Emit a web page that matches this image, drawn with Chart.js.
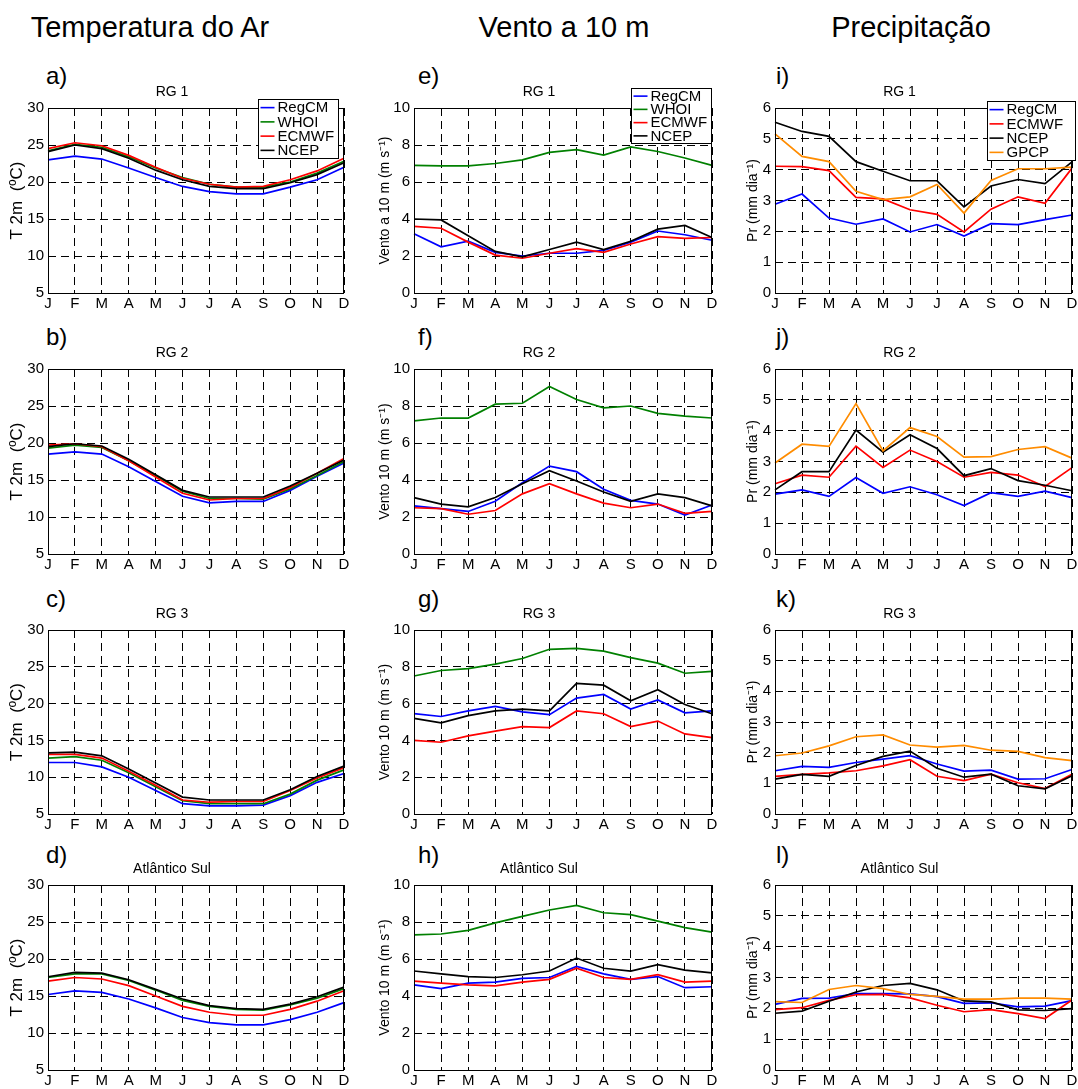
<!DOCTYPE html>
<html>
<head>
<meta charset="utf-8">
<title>Ciclo anual - RegCM</title>
<script src="https://cdn.jsdelivr.net/npm/chart.js"></script>
<style>
  body { margin: 0; background: #fff; }
  #fig { position: relative; width: 1078px; height: 1089px; overflow: hidden;
         font-family: "Liberation Sans", Arial, Helvetica, sans-serif; color: #000; }
  .head { position: absolute; font-size: 29px; line-height: 29px; white-space: nowrap; transform: translateX(-50%); }
  .tag { position: absolute; font-size: 24px; line-height: 24px; }
  canvas { position: absolute; }
</style>
</head>
<body>
<div id="fig">
  <div class="head" style="left:150px; top:13px">Temperatura do Ar</div>
  <div class="head" style="left:564px; top:13px">Vento a 10 m</div>
  <div class="head" style="left:911px; top:13px">Precipitação</div>
</div>

<script>
// months on the x axis
const months = ['J', 'F', 'M', 'A', 'M', 'J', 'J', 'A', 'S', 'O', 'N', 'D'];

// --- temperatura do ar (T 2m, oC) ---
const tRG1_regcm = [23.0, 23.5, 23.1, 21.9, 20.6, 19.4, 18.7, 18.4, 18.4, 19.3, 20.3, 22.0];
const tRG1_whoi  = [24.2, 25.1, 24.7, 23.4, 21.9, 20.6, 19.7, 19.3, 19.3, 20.0, 21.2, 22.8];
const tRG1_ecmwf = [24.5, 25.3, 24.9, 23.6, 22.0, 20.5, 19.7, 19.3, 19.4, 20.3, 21.5, 23.2];
const tRG1_ncep  = [24.1, 25.0, 24.5, 23.2, 21.6, 20.3, 19.4, 19.1, 19.1, 19.9, 21.0, 22.6];

const tRG2_regcm = [18.5, 18.8, 18.5, 16.8, 14.8, 12.8, 11.9, 12.1, 12.1, 13.6, 15.5, 17.3];
const tRG2_whoi  = [19.3, 19.7, 19.4, 17.6, 15.6, 13.5, 12.5, 12.5, 12.4, 13.8, 15.6, 17.5];
const tRG2_ecmwf = [19.7, 19.9, 19.5, 17.6, 15.4, 13.2, 12.3, 12.5, 12.5, 14.0, 15.9, 17.9];
const tRG2_ncep  = [19.5, 19.9, 19.6, 17.8, 15.7, 13.6, 12.7, 12.7, 12.7, 14.2, 15.9, 17.7];

const tRG3_regcm = [12.0, 12.0, 11.4, 10.0, 8.2, 6.4, 6.1, 6.1, 6.2, 7.5, 9.3, 10.5];
const tRG3_whoi  = [12.6, 12.8, 12.3, 10.6, 8.7, 6.8, 6.4, 6.4, 6.4, 7.7, 9.6, 11.0];
const tRG3_ecmwf = [13.1, 13.1, 12.6, 10.8, 8.9, 6.9, 6.6, 6.7, 6.7, 8.2, 9.9, 11.3];
const tRG3_ncep  = [13.3, 13.4, 12.9, 11.1, 9.2, 7.3, 6.9, 6.9, 6.9, 8.3, 10.1, 11.5];

const tAS_regcm = [15.2, 15.7, 15.5, 14.6, 13.4, 12.1, 11.4, 11.1, 11.1, 11.8, 12.8, 14.1];
const tAS_whoi  = [17.5, 18.0, 18.0, 17.1, 15.8, 14.4, 13.6, 13.2, 13.1, 13.8, 14.7, 16.0];
const tAS_ecmwf = [17.0, 17.5, 17.3, 16.4, 15.0, 13.6, 12.8, 12.4, 12.4, 13.2, 14.3, 15.7];
const tAS_ncep  = [17.6, 18.2, 18.1, 17.2, 15.9, 14.6, 13.7, 13.3, 13.2, 13.9, 14.9, 16.2];

// --- vento a 10 m (m s-1) ---
const vRG1_regcm = [3.2, 2.5, 2.8, 2.2, 2.0, 2.15, 2.15, 2.3, 2.75, 3.35, 3.15, 2.85];
const vRG1_whoi  = [6.9, 6.87, 6.87, 7.0, 7.2, 7.6, 7.75, 7.45, 7.9, 7.65, 7.3, 6.9];
const vRG1_ecmwf = [3.6, 3.5, 2.75, 2.05, 1.88, 2.15, 2.4, 2.2, 2.65, 3.05, 2.95, 3.0];
const vRG1_ncep  = [4.0, 3.95, 3.1, 2.25, 1.95, 2.35, 2.75, 2.35, 2.8, 3.45, 3.65, 3.0];

const vRG2_regcm = [2.6, 2.45, 2.3, 2.85, 3.85, 4.75, 4.45, 3.5, 2.9, 2.7, 2.1, 2.65];
const vRG2_whoi  = [7.2, 7.35, 7.35, 8.1, 8.15, 9.05, 8.35, 7.9, 8.0, 7.6, 7.45, 7.35];
const vRG2_ecmwf = [2.5, 2.45, 2.15, 2.35, 3.25, 3.8, 3.25, 2.75, 2.5, 2.7, 2.2, 2.3];
const vRG2_ncep  = [3.05, 2.7, 2.55, 3.05, 3.8, 4.5, 3.95, 3.35, 2.85, 3.25, 3.05, 2.6];

const vRG3_regcm = [5.45, 5.3, 5.6, 5.85, 5.55, 5.4, 6.3, 6.5, 5.7, 6.2, 5.5, 5.6];
const vRG3_whoi  = [7.5, 7.8, 7.9, 8.15, 8.45, 8.95, 9.0, 8.85, 8.5, 8.2, 7.65, 7.75];
const vRG3_ecmwf = [4.0, 3.9, 4.25, 4.5, 4.75, 4.7, 5.6, 5.45, 4.75, 5.05, 4.35, 4.15];
const vRG3_ncep  = [5.2, 4.95, 5.35, 5.6, 5.7, 5.6, 7.1, 7.0, 6.15, 6.75, 5.95, 5.45];

const vAS_regcm = [4.6, 4.4, 4.7, 4.75, 4.95, 5.0, 5.6, 5.2, 4.9, 5.05, 4.45, 4.5];
const vAS_whoi  = [7.3, 7.35, 7.55, 7.95, 8.3, 8.65, 8.9, 8.5, 8.4, 8.05, 7.7, 7.45];
const vAS_ecmwf = [4.8, 4.7, 4.6, 4.55, 4.75, 4.9, 5.5, 5.0, 4.9, 5.15, 4.75, 4.8];
const vAS_ncep  = [5.35, 5.2, 5.05, 5.0, 5.15, 5.35, 6.05, 5.5, 5.35, 5.7, 5.4, 5.25];

// --- precipitacao (mm dia-1) ---
const pRG1_regcm = [2.88, 3.21, 2.43, 2.23, 2.4, 1.98, 2.22, 1.85, 2.25, 2.22, 2.38, 2.53];
const pRG1_ecmwf = [4.11, 4.1, 3.97, 3.1, 3.05, 2.7, 2.55, 1.98, 2.72, 3.12, 2.91, 4.05];
const pRG1_ncep  = [5.54, 5.24, 5.08, 4.26, 3.95, 3.64, 3.64, 2.79, 3.47, 3.68, 3.55, 4.25];
const pRG1_gpcp  = [5.16, 4.43, 4.26, 3.3, 3.03, 3.12, 3.52, 2.59, 3.65, 4.03, 4.03, 4.08];

const pRG2_regcm = [1.94, 2.08, 1.87, 2.48, 1.97, 2.18, 1.92, 1.57, 1.99, 1.87, 2.04, 1.83];
const pRG2_ecmwf = [2.28, 2.56, 2.49, 3.5, 2.81, 3.37, 3.0, 2.49, 2.65, 2.56, 2.19, 2.8];
const pRG2_ncep  = [2.08, 2.67, 2.67, 4.02, 3.3, 3.87, 3.42, 2.54, 2.77, 2.38, 2.23, 2.05];
const pRG2_gpcp  = [2.95, 3.56, 3.49, 4.88, 3.34, 4.1, 3.81, 3.14, 3.16, 3.39, 3.48, 3.11];

const pRG3_regcm = [1.41, 1.55, 1.52, 1.68, 1.79, 1.9, 1.63, 1.4, 1.43, 1.14, 1.15, 1.45];
const pRG3_ecmwf = [1.23, 1.29, 1.34, 1.41, 1.57, 1.77, 1.23, 1.09, 1.3, 1.02, 0.83, 1.3];
const pRG3_ncep  = [1.14, 1.29, 1.23, 1.58, 1.88, 2.05, 1.49, 1.2, 1.3, 0.92, 0.82, 1.25];
const pRG3_gpcp  = [1.9, 1.99, 2.22, 2.52, 2.58, 2.25, 2.18, 2.24, 2.08, 2.04, 1.84, 1.74];

const pAS_regcm = [2.13, 2.32, 2.33, 2.48, 2.48, 2.47, 2.38, 2.16, 2.18, 2.05, 2.07, 2.25];
const pAS_ecmwf = [1.96, 2.02, 2.26, 2.44, 2.45, 2.34, 2.1, 1.89, 1.96, 1.83, 1.67, 2.27];
const pAS_ncep  = [1.84, 1.91, 2.23, 2.53, 2.74, 2.81, 2.6, 2.24, 2.21, 1.95, 1.93, 1.99];
const pAS_gpcp  = [2.22, 2.19, 2.61, 2.74, 2.64, 2.45, 2.39, 2.3, 2.3, 2.33, 2.33, 2.3];

const colors = { RegCM: '#0000ff', WHOI: '#008000', ECMWF: '#ff0000', NCEP: '#000000', GPCP: '#ff8c00' };

function series(names, arrays) {
  return names.map((n, i) => ({ label: n, data: arrays[i] }));
}
const tNames = ['RegCM', 'WHOI', 'ECMWF', 'NCEP'];
const pNames = ['RegCM', 'ECMWF', 'NCEP', 'GPCP'];

// layout of each panel: plot box in page pixels
const colX = [[48, 344], [414, 712], [775, 1072]];
const rowY = [[107.5, 292], [369, 553.5], [630, 814], [885, 1070]];
const colTitlePad = [7.5, 10.6, 17.6];
const colTitleSize = [17, 14, 14];
const rowTag = [64, 325, 587, 843];
const colTag = [46, 418, 776];

const panels = [
  { tag: 'a)', col: 0, row: 0, title: 'RG 1', ylab: 'T 2m  (ºC)', min: 5, max: 30, step: 5,
    ds: series(tNames, [tRG1_regcm, tRG1_whoi, tRG1_ecmwf, tRG1_ncep]), legend: { dx: -6, dy: -9, w: 80, h: 59 } },
  { tag: 'b)', col: 0, row: 1, title: 'RG 2', ylab: 'T 2m  (ºC)', min: 5, max: 30, step: 5,
    ds: series(tNames, [tRG2_regcm, tRG2_whoi, tRG2_ecmwf, tRG2_ncep]) },
  { tag: 'c)', col: 0, row: 2, title: 'RG 3', ylab: 'T 2m  (ºC)', min: 5, max: 30, step: 5,
    ds: series(tNames, [tRG3_regcm, tRG3_whoi, tRG3_ecmwf, tRG3_ncep]) },
  { tag: 'd)', col: 0, row: 3, title: 'Atlântico Sul', ylab: 'T 2m  (ºC)', min: 5, max: 30, step: 5,
    ds: series(tNames, [tAS_regcm, tAS_whoi, tAS_ecmwf, tAS_ncep]) },
  { tag: 'e)', col: 1, row: 0, title: 'RG 1', ylab: 'Vento a 10 m (m s⁻¹)', min: 0, max: 10, step: 2,
    ds: series(tNames, [vRG1_regcm, vRG1_whoi, vRG1_ecmwf, vRG1_ncep]), legend: { dx: -1, dy: -20, w: 80, h: 55 } },
  { tag: 'f)', col: 1, row: 1, title: 'RG 2', ylab: 'Vento 10 m (m s⁻¹)', min: 0, max: 10, step: 2,
    ds: series(tNames, [vRG2_regcm, vRG2_whoi, vRG2_ecmwf, vRG2_ncep]) },
  { tag: 'g)', col: 1, row: 2, title: 'RG 3', ylab: 'Vento 10 m (m s⁻¹)', min: 0, max: 10, step: 2,
    ds: series(tNames, [vRG3_regcm, vRG3_whoi, vRG3_ecmwf, vRG3_ncep]) },
  { tag: 'h)', col: 1, row: 3, title: 'Atlântico Sul', ylab: 'Vento 10 m (m s⁻¹)', min: 0, max: 10, step: 2,
    ds: series(tNames, [vAS_regcm, vAS_whoi, vAS_ecmwf, vAS_ncep]) },
  { tag: 'i)', col: 2, row: 0, title: 'RG 1', ylab: 'Pr (mm dia⁻¹)', min: 0, max: 6, step: 1,
    ds: series(pNames, [pRG1_regcm, pRG1_ecmwf, pRG1_ncep, pRG1_gpcp]), legend: { dx: 3, dy: -7, w: 88, h: 59 } },
  { tag: 'j)', col: 2, row: 1, title: 'RG 2', ylab: 'Pr (mm dia⁻¹)', min: 0, max: 6, step: 1,
    ds: series(pNames, [pRG2_regcm, pRG2_ecmwf, pRG2_ncep, pRG2_gpcp]) },
  { tag: 'k)', col: 2, row: 2, title: 'RG 3', ylab: 'Pr (mm dia⁻¹)', min: 0, max: 6, step: 1,
    ds: series(pNames, [pRG3_regcm, pRG3_ecmwf, pRG3_ncep, pRG3_gpcp]) },
  { tag: 'l)', col: 2, row: 3, title: 'Atlântico Sul', ylab: 'Pr (mm dia⁻¹)', min: 0, max: 6, step: 1,
    ds: series(pNames, [pAS_regcm, pAS_ecmwf, pAS_ncep, pAS_gpcp]) }
];

const FONT = "'Liberation Sans', Arial, Helvetica, sans-serif";
const AXW = 48, TOPH = 30, BOTH = 22, RPAD = 12;

// black frame around the plot area (MATLAB "box on")
const boxPlugin = {
  id: 'box',
  afterDraw(chart) {
    const a = chart.chartArea, ctx = chart.ctx;
    ctx.save();
    ctx.strokeStyle = '#000';
    ctx.lineWidth = 1;
    ctx.strokeRect(Math.round(a.left) + 0.5, Math.round(a.top) + 0.5,
                   Math.round(a.right - a.left) - 1, Math.round(a.bottom - a.top));
    ctx.restore();
  }
};

// legend box drawn in the top-right corner
const boxLegend = {
  id: 'boxLegend',
  afterDraw(chart, args, opts) {
    if (!opts || !opts.w) return;
    const a = chart.chartArea, ctx = chart.ctx;
    const x0 = Math.round(a.right + opts.dx - opts.w) + 0.5;
    const y0 = Math.round(a.top + opts.dy) + 0.5;
    ctx.save();
    ctx.fillStyle = '#fff';
    ctx.fillRect(x0, y0, opts.w, opts.h);
    ctx.strokeStyle = '#000';
    ctx.lineWidth = 1;
    ctx.strokeRect(x0, y0, opts.w, opts.h);
    const n = chart.data.datasets.length;
    const rh = (opts.h - 2) / n;
    ctx.font = '15px ' + FONT;
    ctx.textBaseline = 'middle';
    chart.data.datasets.forEach((d, i) => {
      const cy = y0 + 1 + rh * (i + 0.5);
      ctx.strokeStyle = d.borderColor;
      ctx.lineWidth = 1.6;
      ctx.beginPath();
      ctx.moveTo(x0 + 2, cy);
      ctx.lineTo(x0 + 16, cy);
      ctx.stroke();
      ctx.fillStyle = '#000';
      ctx.fillText(d.label, x0 + 19, cy + 0.5);
    });
    ctx.restore();
  }
};

const fig = document.getElementById('fig');

panels.forEach(p => {
  const [l, r] = colX[p.col];
  const [t, b] = rowY[p.row];

  const tag = document.createElement('div');
  tag.className = 'tag';
  tag.style.left = colTag[p.col] + 'px';
  tag.style.top = rowTag[p.row] + 'px';
  tag.textContent = p.tag;
  fig.appendChild(tag);

  const cv = document.createElement('canvas');
  const w = Math.round(r - l + AXW + RPAD);
  const h = Math.round(b - t + TOPH + BOTH);
  cv.width = w;
  cv.height = h;
  cv.style.width = w + 'px';
  cv.style.height = h + 'px';
  cv.style.left = (l - AXW) + 'px';
  cv.style.top = (t - TOPH) + 'px';
  fig.appendChild(cv);

  const n = p.ds.length;
  new Chart(cv, {
    type: 'line',
    data: {
      labels: months,
      datasets: p.ds.map((d, i) => ({
        label: d.label,
        data: d.data,
        borderColor: colors[d.label],
        backgroundColor: colors[d.label],
        borderWidth: 1.7,
        pointRadius: 0,
        tension: 0,
        fill: false,
        order: n - i   // later series drawn on top, as in the original
      }))
    },
    options: {
      responsive: false,
      animation: false,
      events: [],
      layout: { padding: { left: 0, right: RPAD, top: 0, bottom: 0 } },
      plugins: {
        legend: { display: false },
        tooltip: { enabled: false },
        title: {
          display: true,
          text: p.title,
          color: '#000',
          font: { family: FONT, size: 14, weight: 'normal' },
          padding: { top: 6, bottom: TOPH - 6 - 14 * 1.2 }
        },
        boxLegend: p.legend || {}
      },
      scales: {
        x: {
          type: 'category',
          offset: false,
          afterFit: s => { s.height = BOTH; },
          grid: { color: '#000', lineWidth: 1, drawTicks: false },
          border: { display: false, dash: [8, 5] },
          ticks: { color: '#000', font: { family: FONT, size: 15 }, padding: 2,
                   maxRotation: 0, autoSkip: false }
        },
        y: {
          min: p.min,
          max: p.max,
          afterFit: s => { s.width = AXW; },
          grid: { color: '#000', lineWidth: 1, drawTicks: false },
          border: { display: false, dash: [8, 5] },
          ticks: { stepSize: p.step, color: '#000', font: { family: FONT, size: 15 }, padding: 4 },
          title: {
            display: true,
            text: p.ylab,
            color: '#000',
            font: { family: FONT, size: colTitleSize[p.col] },
            padding: { top: colTitlePad[p.col], bottom: 0 }
          }
        }
      }
    },
    plugins: [boxPlugin, boxLegend]
  });
});
</script>
</body>
</html>
